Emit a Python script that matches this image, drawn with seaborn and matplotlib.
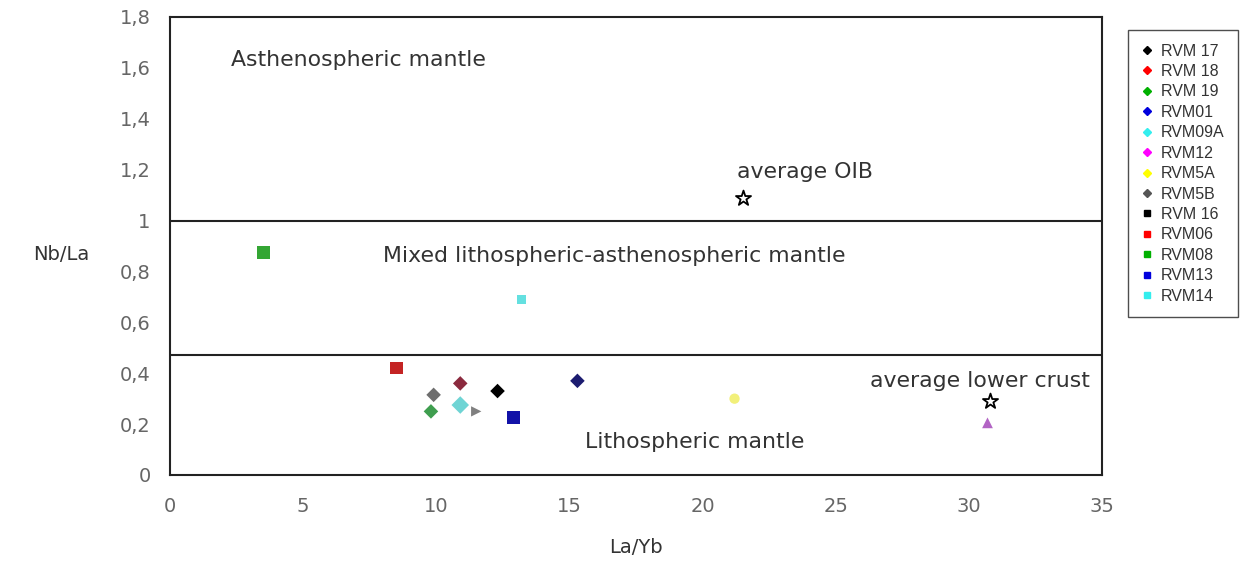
import matplotlib
matplotlib.use("Agg")
import matplotlib.pyplot as plt
from matplotlib.lines import Line2D
import seaborn as sns
import pandas as pd

sns.set_theme(style="white")
plt.rcParams['font.family'] = ['DejaVu Sans']

# ---- data ----
samples = ["RVM 17", "RVM 18", "RVM 19", "RVM01", "RVM09A", "RVM12", "RVM5A",
           "RVM5B", "RVM5B", "RVM06", "RVM08", "RVM13", "RVM14"]
la_yb = [12.3, 10.9, 9.8, 15.3, 10.9, 30.7, 21.2, 9.9, 11.5, 8.5, 3.5, 12.9, 13.2]
nb_la = [0.33, 0.36, 0.25, 0.37, 0.275, 0.205, 0.30, 0.315, 0.25, 0.42, 0.875, 0.225, 0.69]
plot_markers = ["D", "D", "D", "D", "D", "^", "o", "D", ">", "s", "s", "s", "s"]
plot_colors = ["#000000", "#8b2a3e", "#3f9e4f", "#1c1c70", "#6fd4d4", "#b264c4",
               "#f2f07a", "#6e6e6e", "#808080", "#c42424", "#34a634", "#1212a8", "#64e0e0"]
plot_sizes = [55, 55, 55, 55, 80, 60, 55, 55, 55, 80, 90, 90, 45]

ref_names = ["average OIB", "average lower crust"]
ref_x = [21.5, 30.8]
ref_y = [1.09, 0.29]

legend_labels = ["RVM 17", "RVM 18", "RVM 19", "RVM01", "RVM09A", "RVM12", "RVM5A",
                 "RVM5B", "RVM 16", "RVM06", "RVM08", "RVM13", "RVM14"]
legend_colors = ["#000000", "#ff0000", "#00b000", "#0000dd", "#33eeee", "#ff00ff",
                 "#ffff00", "#555555", "#000000", "#ff0000", "#00b000", "#0000dd", "#33eeee"]
legend_markers = ["D"] * 8 + ["s"] * 5

boundaries = [1.0, 0.47]
fields = ["Asthenospheric mantle", "Mixed lithospheric-asthenospheric mantle",
          "Lithospheric mantle"]
field_x = [2.3, 8.0, 15.6]
field_y = [1.63, 0.86, 0.13]

xticks = [0, 5, 10, 15, 20, 25, 30, 35]
yticks = [0, 0.2, 0.4, 0.6, 0.8, 1.0, 1.2, 1.4, 1.6, 1.8]
ytick_labels = ["0", "0,2", "0,4", "0,6", "0,8", "1", "1,2", "1,4", "1,6", "1,8"]

# ---- figure ----
fig = plt.figure(figsize=(12.42, 5.65), dpi=100)
ax = fig.add_axes([170 / 1242, 90 / 565, 932 / 1242, 458 / 565])

for i in range(len(la_yb)):
    df = pd.DataFrame({"x": [la_yb[i]], "y": [nb_la[i]]})
    sns.scatterplot(data=df, x="x", y="y", marker=plot_markers[i], color=plot_colors[i],
                    s=plot_sizes[i], edgecolor="none", ax=ax, legend=False, zorder=3)

refdf = pd.DataFrame({"x": ref_x, "y": ref_y})
sns.scatterplot(data=refdf, x="x", y="y", marker="*", s=130, facecolor="white",
                edgecolor="black", linewidth=1.3, ax=ax, legend=False, zorder=4)

for b in boundaries:
    ax.axhline(b, color="#222222", lw=1.5, zorder=2)

fs = 15.8
for t, x, y in zip(fields, field_x, field_y):
    ax.text(x, y, t, fontsize=fs, color="#333333", va="center", ha="left")
ax.text(21.3, 1.19, ref_names[0], fontsize=fs, color="#333333", va="center", ha="left")
ax.text(26.3, 0.37, ref_names[1], fontsize=fs, color="#333333", va="center", ha="left")

ax.set_xlim(0, 35)
ax.set_ylim(0, 1.8)
ax.set_xticks(xticks)
ax.set_xticklabels([str(v) for v in xticks])
ax.set_yticks(yticks)
ax.set_yticklabels(ytick_labels)
ax.tick_params(axis="both", labelsize=14, labelcolor="#666666", length=0)
ax.tick_params(axis="x", pad=16)
ax.tick_params(axis="y", pad=14)
ax.set_xlabel("La/Yb", fontsize=14, color="#333333", labelpad=16)
ax.set_ylabel("Nb/La", fontsize=14, color="#333333", rotation=0, labelpad=0)
ax.yaxis.set_label_coords(-0.117, 0.46)
for s in ax.spines.values():
    s.set_visible(True)
    s.set_color("#222222")
    s.set_linewidth(1.5)

handles = [Line2D([0], [0], marker=m, color="none", markerfacecolor=c, markeredgecolor=c,
                  markersize=(4 if m == "D" else 5), linestyle="none")
           for m, c in zip(legend_markers, legend_colors)]
leg = fig.legend(handles, legend_labels, loc="upper left",
                 bbox_to_anchor=(1128 / 1242, 1 - 30 / 565),
                 frameon=True, fancybox=False, edgecolor="#222222",
                 prop={"family": "Liberation Sans", "size": 11.5},
                 handlelength=0.7, handletextpad=0.5, labelspacing=0.34,
                 borderpad=0.85, borderaxespad=0)
leg.get_frame().set_linewidth(1.0)
for txt in leg.get_texts():
    txt.set_color("#333333")

fig.savefig("out.png", dpi=100)
